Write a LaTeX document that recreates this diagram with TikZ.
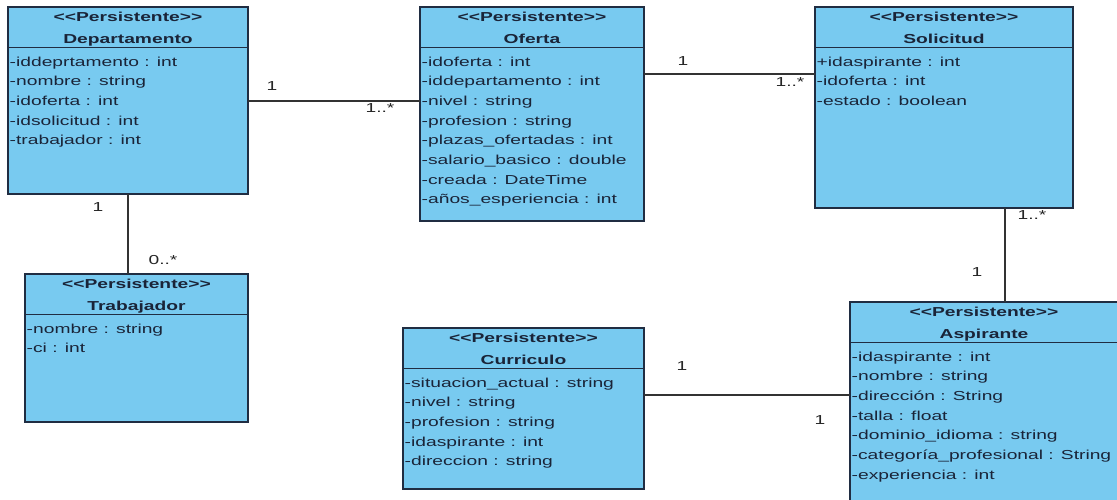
\documentclass[tikz,border=0pt]{standalone}
\usepackage{fontspec}
\setmainfont{Liberation Sans}[FakeStretch=1.48]
\definecolor{classfill}{RGB}{120,202,240}
\definecolor{classline}{RGB}{32,45,66}
\definecolor{txt}{RGB}{26,36,56}
\tikzset{
 classbox/.style={draw=classline, fill=classfill, line width=1.4pt, inner sep=0pt, outer sep=0pt, anchor=north west},
 attr/.style={anchor=base west, inner sep=0pt, text=txt, font=\fontsize{13}{15}\selectfont},
 head/.style={anchor=base, inner sep=0pt, text=txt, font=\fontsize{13}{15}\selectfont\bfseries},
 assoc/.style={draw=black!80, line width=1.1pt},
 mult/.style={inner sep=0pt, text=black!85, font=\fontsize{13}{15}\selectfont},
}
\newcommand\umlclass[7]{%
 \node[classbox, minimum width={#4pt-#2pt}, minimum height={#5pt-#3pt}] (#1) at (#2,#3) {};
 \draw[draw=classline, line width=1.1pt] (#2,#3+40.5) -- (#4,#3+40.5);
 \node[head] (#1-st) at ({(#2+#4)/2},#3+14) {<{}<Persistente>{}>};
 \node[head] (#1-nm) at ({(#2+#4)/2},#3+36) {#6};
 \foreach \a [count=\i] in {#7} \node[attr] (#1-a\i) at (#2+1.5,{#3+40.5+18.5+(\i-1)*19.7}) {\a};
}
\begin{document}
\begin{tikzpicture}[x=1pt,y=-1pt]
\useasboundingbox[fill=white] (0,0) rectangle (1117,499);
\umlclass{dep}{8}{7}{248}{194}{Departamento}{-iddeprtamento : int,-nombre : string,-idoferta : int,-idsolicitud : int,-trabajador : int}
\umlclass{of}{420}{7}{644}{221}{Oferta}{-idoferta : int,-iddepartamento : int,-nivel : string,-profesion : string,-plazas\_ofertadas : int,-salario\_basico : double,-creada : DateTime,-años\_esperiencia : int}
\umlclass{sol}{815}{7}{1073}{208}{Solicitud}{+idaspirante : int,-idoferta : int,-estado : boolean}
\umlclass{trab}{25}{274}{248}{422}{Trabajador}{-nombre : string,-ci : int}
\umlclass{cur}{403}{328}{644}{489}{Curriculo}{-situacion\_actual : string,-nivel : string,-profesion : string,-idaspirante : int,-direccion : string}
\umlclass{asp}{850}{302}{1118}{515}{Aspirante}{-idaspirante : int,-nombre : string,-dirección : String,-talla : float,-dominio\_idioma : string,-categoría\_profesional : String,-experiencia : int}
% associations
\draw[assoc] (dep.east |- 0,101) -- (of.west |- 0,101);
\draw[assoc] (dep.south -| 128,0) -- (trab.north -| 128,0);
\draw[assoc] (of.east |- 0,74) -- (sol.west |- 0,74);
\draw[assoc] (sol.south -| 1005,0) -- (asp.north -| 1005,0);
\draw[assoc] (cur.east |- 0,395) -- (asp.west |- 0,395);
% multiplicities
\node[mult] (m1) at (272,86) {1};
\node[mult] (m2) at (380,108) {1..*};
\node[mult] (m3) at (98,207) {1};
\node[mult] (m4) at (163,260) {0..*};
\node[mult] (m5) at (683,61) {1};
\node[mult] (m6) at (790,82) {1..*};
\node[mult] (m7) at (1032,215) {1..*};
\node[mult] (m8) at (977,272) {1};
\node[mult] (m9) at (682,366) {1};
\node[mult] (m10) at (820,420) {1};
\end{tikzpicture}
\end{document}
